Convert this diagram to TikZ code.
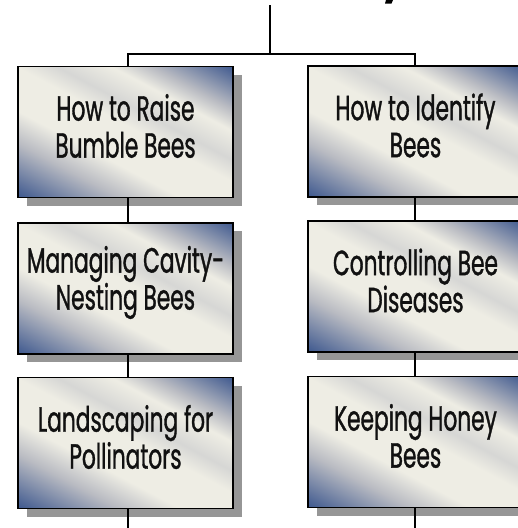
\documentclass[tikz,border=0pt]{standalone}
\usepackage{fontspec}
\setmainfont{Poppins}[FakeStretch=0.62,FakeBold=1.0]
\usetikzlibrary{shadows,calc}
\definecolor{bblue}{HTML}{34508A}
\definecolor{bgray}{HTML}{B9BBC2}
\definecolor{bcream}{HTML}{EEEDE4}
\definecolor{shgray}{HTML}{969696}
\definecolor{ink}{HTML}{111111}
\pgfdeclareverticalshading{beeshade}{100bp}{color(0bp)=(bblue); color(15bp)=(bblue); color(31bp)=(bgray); color(40bp)=(bcream); color(52bp)=(bcream); color(58bp)=(bgray!45!bcream); color(66bp)=(bcream); color(72bp)=(bgray); color(85bp)=(bblue); color(100bp)=(bblue)}
\tikzset{
  box/.style={draw=black, line width=1.6pt, shading=beeshade, shading angle=-28,
    minimum width=215pt, minimum height=131pt, inner sep=0pt,
    drop shadow={shadow xshift=9pt, shadow yshift=-8pt, fill=shgray, opacity=1, draw=none}},
  txt/.style={align=center, inner sep=0pt, text=ink, font=\fontsize{35}{37}\selectfont},
  link/.style={draw=black, line width=1.4pt}
}
\begin{document}
\begin{tikzpicture}[x=1pt,y=1pt]
\useasboundingbox (0,0) rectangle (518,-528);
\fill[black] (386,0) -- (393,0) -- (391.5,-3.5) -- (385,-3.5) -- cycle;
\coordinate (top) at (270,-5);
\coordinate (junc) at (270,-54);
\coordinate (lx) at (128,-54);
\coordinate (rx) at (415,-54);
\coordinate (lend) at (128,-528);
\coordinate (rend) at (415,-528);
\node[box] (L1) at (125.5,-132) {};
\node[box] (L2) at (125.5,-288.5) {};
\node[box] (L3) at (125.5,-443) {};
\node[box] (R1) at (415.5,-131.5) {};
\node[box] (R2) at (415.5,-286.5) {};
\node[box] (R3) at (415.5,-442) {};
\node[txt] (L1t) at ($(L1)+(0,6)$) {How to Raise\\Bumble Bees};
\node[txt] (L2t) at ($(L2)+(0,6)$) {Managing Cavity-\\Nesting Bees};
\node[txt] (L3t) at ($(L3)+(0,6)$) {Landscaping for\\Pollinators};
\node[txt] (R1t) at ($(R1)+(0,6)$) {How to Identify\\Bees};
\node[txt] (R2t) at ($(R2)+(0,6)$) {Controlling Bee\\Diseases};
\node[txt] (R3t) at ($(R3)+(0,6)$) {Keeping Honey\\Bees};
\draw[link] (top) -- (junc);
\draw[link] (L1.north -| lx) -- (lx) -- (rx) -- (R1.north -| rx);
\draw[link] (L1.south -| lx) -- (L2.north -| lx);
\draw[link] (L2.south -| lx) -- (L3.north -| lx);
\draw[link] (L3.south -| lx) -- (lend);
\draw[link] (R1.south -| rx) -- (R2.north -| rx);
\draw[link] (R2.south -| rx) -- (R3.north -| rx);
\draw[link] (R3.south -| rx) -- (rend);
\end{tikzpicture}
\end{document}
